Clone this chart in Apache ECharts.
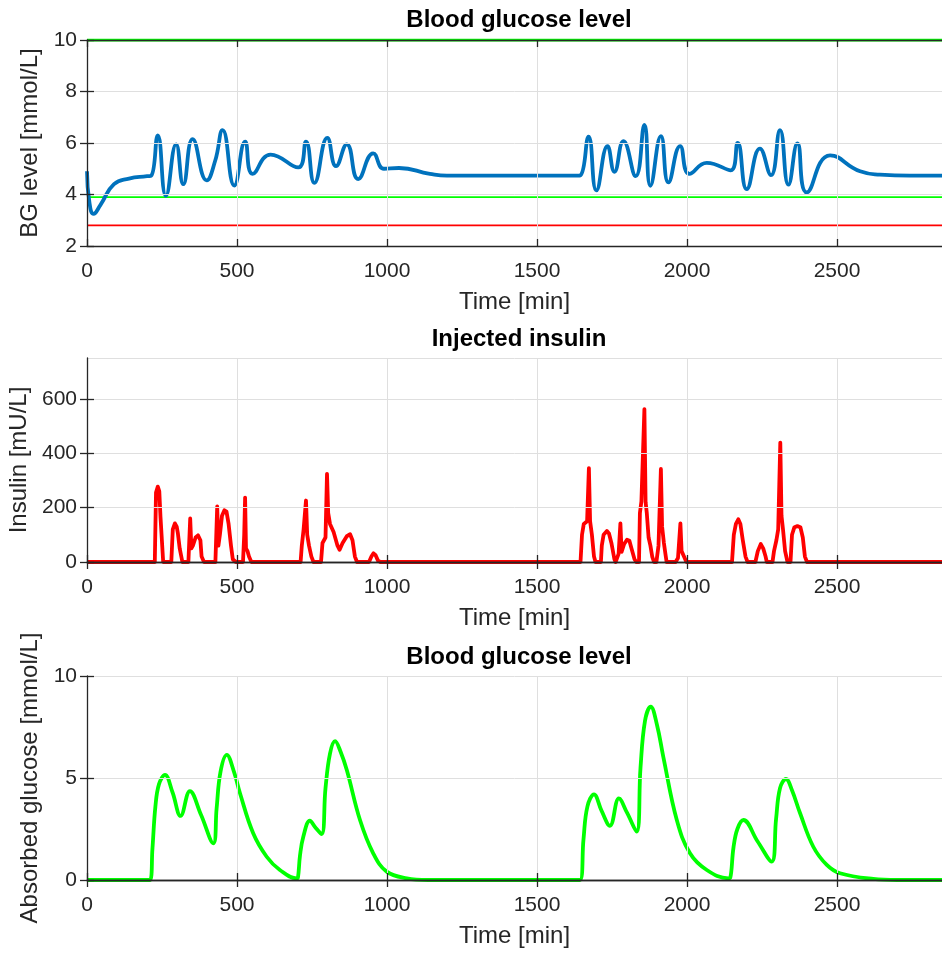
<!DOCTYPE html>
<html>
<head>
<meta charset="utf-8">
<script src="https://cdn.jsdelivr.net/npm/echarts@6/dist/echarts.min.js"></script>
<style>
  html, body { margin: 0; padding: 0; background: #fff; }
  #chart { width: 942px; height: 953px; }
</style>
</head>
<body>
<div id="chart"></div>
<script>
// Time axis [min]
const timeMax = 2850;
const timeTicks = [0, 500, 1000, 1500, 2000, 2500];

// Blood glucose level [mmol/L]: [time, value]
const bgLevel = [
  [0, 4.9], [8, 3.7], [22, 3.25], [45, 3.6], [90, 4.4], [140, 4.62], [200, 4.71], [214, 4.73],
  [236, 6.3], [263, 3.95], [297, 5.95], [321, 4.4], [352, 6.15], [399, 4.55], [427, 5.3],
  [452, 6.5], [491, 4.35], [527, 6.05], [552, 4.8], [612, 5.55], [704, 5.05], [730, 6.05],
  [758, 4.45], [801, 6.2], [830, 5.1], [866, 5.95], [904, 4.6], [954, 5.6], [990, 5.0],
  [1040, 5.03], [1143, 4.8], [1200, 4.73], [1400, 4.73], [1630, 4.73], [1645, 4.75],
  [1672, 6.25], [1698, 4.16], [1735, 5.88], [1758, 4.88], [1788, 6.07], [1829, 4.71],
  [1858, 6.7], [1878, 4.34], [1913, 6.27], [1938, 4.47], [1977, 5.88], [2008, 4.8],
  [2066, 5.23], [2146, 4.94], [2169, 6.0], [2199, 4.21], [2243, 5.78], [2280, 4.75],
  [2310, 6.5], [2338, 4.38], [2368, 5.98], [2399, 4.08], [2477, 5.52], [2577, 4.9],
  [2643, 4.77], [2743, 4.73], [2850, 4.73]
];
// Glucose limits [mmol/L]
const bgUpper = 10;
const bgLower = 3.9;
const bgHypo = 2.8;

// Injected insulin [mU/L]: [time, value]
const insulin = [
  [0, 0], [226, 0], [230, 255], [236, 277], [241, 260], [245, 165], [250, 160], [254, 0],
  [281, 0], [286, 120], [293, 142], [299, 130], [303, 105], [309, 50], [318, 0],
  [338, 0], [344, 160], [348, 50], [353, 60], [362, 90], [370, 98], [378, 80], [382, 20], [390, 0],
  [428, 0], [434, 204], [438, 60], [443, 100], [450, 170], [458, 190], [465, 185], [472, 140],
  [480, 60], [486, 10], [496, 0],
  [520, 0], [524, 100], [527, 237], [530, 50], [535, 40], [540, 20], [548, 0],
  [712, 0], [716, 60], [722, 120], [730, 226], [734, 100], [740, 60], [748, 20], [755, 0],
  [780, 0], [785, 70], [795, 90], [800, 324], [804, 180], [810, 140], [822, 110], [835, 60],
  [842, 45], [852, 70], [866, 95], [877, 102], [885, 80], [893, 20], [900, 0],
  [940, 0], [948, 20], [955, 32], [962, 25], [970, 5], [978, 0],
  [1645, 0], [1650, 100], [1656, 140], [1661, 140], [1667, 150], [1673, 345], [1677, 150],
  [1683, 100], [1690, 20], [1695, 0],
  [1713, 0], [1716, 60], [1722, 100], [1733, 114], [1740, 105], [1748, 70], [1758, 10], [1762, 0],
  [1767, 0], [1772, 30], [1778, 142], [1782, 37], [1790, 65], [1800, 82], [1808, 78], [1815, 50],
  [1825, 10], [1831, 0],
  [1840, 0], [1843, 180], [1848, 222], [1853, 225], [1858, 562], [1862, 220], [1866, 180],
  [1872, 90], [1878, 60], [1884, 20], [1890, 0],
  [1898, 0], [1905, 60], [1913, 342], [1917, 130], [1923, 70], [1928, 30], [1932, 0],
  [1962, 0], [1970, 15], [1978, 142], [1982, 40], [1990, 20], [1998, 0],
  [2150, 0], [2156, 100], [2163, 140], [2171, 157], [2178, 140], [2186, 80], [2195, 20], [2202, 0],
  [2228, 0], [2236, 40], [2246, 66], [2254, 50], [2262, 20], [2266, 0],
  [2285, 0], [2290, 40], [2298, 80], [2304, 120], [2311, 439], [2315, 170], [2320, 120],
  [2327, 40], [2335, 0],
  [2345, 0], [2350, 100], [2358, 128], [2368, 132], [2378, 128], [2386, 90], [2393, 20], [2400, 0],
  [2850, 0]
];

// Absorbed glucose [mmol/L]: [time, value]
const absorbed = [
  [0, 0], [210, 0], [218, 1.5], [228, 3.6], [240, 4.7], [260, 5.15], [285, 4.3], [312, 3.14],
  [343, 4.36], [380, 3.2], [421, 1.8], [432, 3.5], [445, 5.3], [466, 6.13], [490, 5.3],
  [510, 4.25], [554, 2.29], [599, 1.14], [643, 0.49], [699, 0.08], [703, 0.1], [710, 1.2],
  [721, 2.12], [743, 2.91], [760, 2.6], [782, 2.25], [795, 4.5], [810, 6.2], [827, 6.81],
  [845, 6.3], [866, 5.39], [910, 2.94], [954, 1.31], [999, 0.41], [1066, 0.08], [1137, 0],
  [1643, 0], [1655, 2.0], [1668, 3.6], [1690, 4.2], [1715, 3.4], [1743, 2.66], [1773, 4.0],
  [1800, 3.3], [1832, 2.37], [1845, 5.5], [1860, 7.8], [1879, 8.5], [1900, 7.6], [1921, 6.04],
  [1966, 2.94], [2010, 1.31], [2066, 0.49], [2138, 0.08], [2144, 0.1], [2155, 1.6],
  [2168, 2.5], [2188, 2.94], [2235, 1.9], [2282, 0.9], [2297, 3.0], [2310, 4.5], [2330, 4.95],
  [2350, 4.4], [2377, 3.27], [2421, 1.63], [2466, 0.74], [2510, 0.33], [2621, 0.05],
  [2700, 0], [2850, 0]
];

const panelTitles = ['Blood glucose level', 'Injected insulin', 'Blood glucose level'];
const yNames = ['BG level [mmol/L]', 'Insulin [mU/L]', 'Absorbed glucose [mmol/L]'];
const yTickValues = [[2, 4, 6, 8, 10], [0, 200, 400, 600], [0, 5, 10]];
const xName = 'Time [min]';

const FONT = 'Liberation Sans, Arial, sans-serif';
const INK = '#262626';
const GRIDC = '#dfdfdf';

const grids = [
  { left: 87, right: 0, top: 40, height: 206, outerBoundsMode: 'none' },
  { left: 87, right: 0, top: 358, height: 204, outerBoundsMode: 'none' },
  { left: 87, right: 0, top: 676, height: 204, outerBoundsMode: 'none' }
];
const yRanges = [
  { min: 2, max: 10, interval: 2 },
  { min: 0, max: 750, interval: 200 },
  { min: 0, max: 10, interval: 5 }
];
const yNameGaps = [45, 53, 42];

const tickStyle = { color: INK, width: 1.3 };
const lineStyle = { color: INK, width: 1.3 };
const plain = v => String(v);
const xRange = { min: 0, max: timeMax, interval: 500 };

// tick-only axis (no labels, no grid lines) drawn on one edge of a panel
const tickOnly = (extra, range, ticks, showLine) => Object.assign({
  type: 'value',
  axisLine: { show: showLine, lineStyle: lineStyle },
  axisTick: { show: true, inside: true, length: 7, customValues: ticks, lineStyle: tickStyle },
  axisLabel: { show: false }, splitLine: { show: false }, z: 5
}, range, extra);

const xAxes = [];
const yAxes = [];
grids.forEach((g, i) => {
  // labelled axes
  xAxes.push(Object.assign({
    gridIndex: i, type: 'value',
    name: xName, nameLocation: 'middle', nameGap: 44,
    nameTextStyle: { fontFamily: FONT, fontSize: 24, color: INK },
    axisLine: { show: true, lineStyle: lineStyle },
    axisTick: { show: false },
    axisLabel: { fontFamily: FONT, fontSize: 21, color: INK, margin: 15, formatter: plain, customValues: timeTicks },
    splitLine: { show: true, lineStyle: { color: GRIDC, width: 1 } },
    z: 5
  }, xRange));
  yAxes.push(Object.assign({
    gridIndex: i, type: 'value',
    name: yNames[i], nameLocation: 'middle', nameGap: yNameGaps[i],
    nameTextStyle: { fontFamily: FONT, fontSize: 24, color: INK },
    axisLine: { show: true, lineStyle: lineStyle },
    axisTick: { show: false },
    axisLabel: { fontFamily: FONT, fontSize: 21, color: INK, margin: 10, formatter: plain, customValues: yTickValues[i] },
    splitLine: { show: true, lineStyle: { color: GRIDC, width: 1 } },
    z: 5
  }, yRanges[i]));
});
// inward ticks on all four edges, plus the top edge of the box
grids.forEach((g, i) => {
  xAxes.push(tickOnly({ gridIndex: i, position: 'top' }, xRange, timeTicks, true));
  yAxes.push(tickOnly({ gridIndex: i, position: 'right' }, yRanges[i], yTickValues[i], false));
});
grids.forEach((g, i) => {
  xAxes.push(tickOnly({ gridIndex: i, position: 'bottom' }, xRange, timeTicks, false));
  yAxes.push(tickOnly({ gridIndex: i, position: 'left' }, yRanges[i], yTickValues[i], false));
});

const titleTops = [3, 322, 640];
const titles = panelTitles.map((t, i) => ({
  text: t, left: 514, top: titleTops[i], textAlign: 'center',
  textStyle: { fontFamily: FONT, fontSize: 24, fontWeight: 'bold', color: '#000' }
}));

// horizontal limit line across the whole time range
const limitSeries = (val, color, width) => ({
  type: 'line', xAxisIndex: 0, yAxisIndex: 0,
  data: [[0, val], [timeMax, val]],
  showSymbol: false, silent: true, z: 1,
  lineStyle: { color: color, width: width }
});

const option = {
  animation: false,
  backgroundColor: '#ffffff',
  title: titles,
  grid: grids,
  xAxis: xAxes,
  yAxis: yAxes,
  series: [
    limitSeries(bgUpper, '#00FF00', 2.8),
    limitSeries(bgLower, '#00FF00', 1.6),
    limitSeries(bgHypo, '#FF0000', 1.8),
    {
      type: 'line', xAxisIndex: 0, yAxisIndex: 0, data: bgLevel,
      smooth: 0.5, showSymbol: false, z: 3,
      lineStyle: { color: '#0072BD', width: 3.8 }
    },
    {
      type: 'line', xAxisIndex: 1, yAxisIndex: 1, data: insulin,
      smooth: false, showSymbol: false,
      lineStyle: { color: '#FF0000', width: 3.8, join: 'round' }
    },
    {
      type: 'line', xAxisIndex: 2, yAxisIndex: 2, data: absorbed,
      smooth: 0.4, showSymbol: false,
      lineStyle: { color: '#00FF00', width: 3.8 }
    }
  ]
};

const chart = echarts.init(document.getElementById('chart'), null, { renderer: 'canvas' });
chart.setOption(option);
</script>
</body>
</html>
